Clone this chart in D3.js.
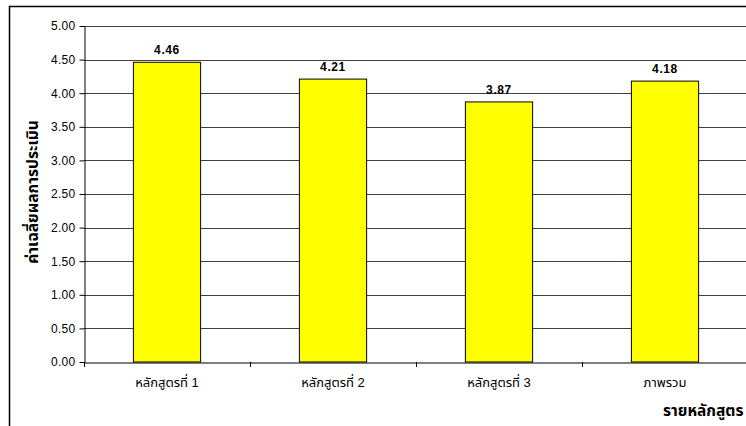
<!DOCTYPE html>
<html><head><meta charset="utf-8">
<script src="https://cdn.jsdelivr.net/npm/d3@7"></script>
<style>
html,body{margin:0;padding:0;background:#fff;}
svg{display:block;font-family:"Liberation Sans",Arial,"Noto Sans Thai","Noto Sans",sans-serif;}
</style></head>
<body>
<svg id="c" width="746" height="426"></svg>
<script>
const categories = ["หลักสูตรที่ 1","หลักสูตรที่ 2","หลักสูตรที่ 3","ภาพรวม"];
const values = [4.46, 4.21, 3.87, 4.18];
const yTicks = [0,0.5,1,1.5,2,2.5,3,3.5,4,4.5,5];
const yTitle = "ค่าเฉลี่ยผลการประเมิน";
const xTitle = "รายหลักสูตร";

const svg = d3.select("#c");
// outer frame
svg.append("path").attr("d","M9.5,430 L9.5,6.5 L760,6.5").attr("fill","none").attr("stroke","#000").attr("stroke-width",1.5);

const pL=84, pR=748, pT=26, pB=362;
const x = d3.scaleBand().domain(categories).range([pL,pR]).paddingInner(0).paddingOuter(0);
const y = d3.scaleLinear().domain([0,5]).range([pB,pT]);

// gridlines
svg.append("g").selectAll("line").data(yTicks.filter(d=>d>0)).join("line")
  .attr("x1",pL).attr("x2",pR).attr("y1",d=>Math.round(y(d))+0.5).attr("y2",d=>Math.round(y(d))+0.5)
  .attr("stroke","#404040").attr("stroke-width",1);

// bars
const bw = x.bandwidth()*0.405;
svg.append("g").selectAll("rect").data(values).join("rect")
  .attr("x",(d,i)=>x(categories[i])+x.bandwidth()/2-bw/2)
  .attr("y",d=>y(d)).attr("width",bw).attr("height",d=>pB-y(d))
  .attr("fill","#ffff00").attr("stroke","#000").attr("stroke-width",1);

// value labels
svg.append("g").selectAll("text").data(values).join("text")
  .attr("x",(d,i)=>x(categories[i])+x.bandwidth()/2).attr("y",d=>y(d)-8)
  .attr("text-anchor","middle").attr("font-size",12).attr("font-weight","bold").attr("letter-spacing",0.6)
  .text(d=>d.toFixed(2));

// y axis
const ya = svg.append("g").attr("transform",`translate(${pL+0.5},0)`)
  .call(d3.axisLeft(y).tickValues(yTicks).tickFormat(d3.format(".2f")).tickSize(5).tickSizeOuter(0));
ya.select(".domain").attr("stroke","#000");
ya.selectAll(".tick line").attr("stroke","#000");
ya.selectAll("text").attr("font-size",12).attr("fill","#000").attr("font-family","Liberation Sans, Arial, sans-serif").attr("dx",-1).attr("letter-spacing",0.3);

// x axis
const xa = svg.append("g").attr("transform",`translate(0,${pB+0.5})`)
  .call(d3.axisBottom(x).tickSize(0).tickSizeOuter(0));
xa.select(".domain").attr("stroke","#000");
xa.selectAll("text").attr("font-size",13).attr("fill","#000").attr("dy",0).attr("y",24)
  .attr("font-family","Liberation Sans, Arial, 'Noto Sans Thai', sans-serif");
// category separator ticks
svg.append("g").selectAll("line").data(categories.concat(["end"])).join("line")
  .attr("x1",(d,i)=>i<categories.length?Math.round(x(d))+0.5:pR).attr("x2",(d,i)=>i<categories.length?Math.round(x(d))+0.5:pR)
  .attr("y1",pB).attr("y2",pB+5).attr("stroke","#000");

// y title
svg.append("text").attr("transform",`translate(38,${(pT+pB)/2-2}) rotate(-90)`)
  .attr("text-anchor","middle").attr("font-size",15.5).attr("font-weight","bold").text(yTitle);
// x title
svg.append("text").attr("x",663).attr("y",416).attr("font-size",15.5).attr("font-weight","bold").text(xTitle);
</script>
</body></html>
